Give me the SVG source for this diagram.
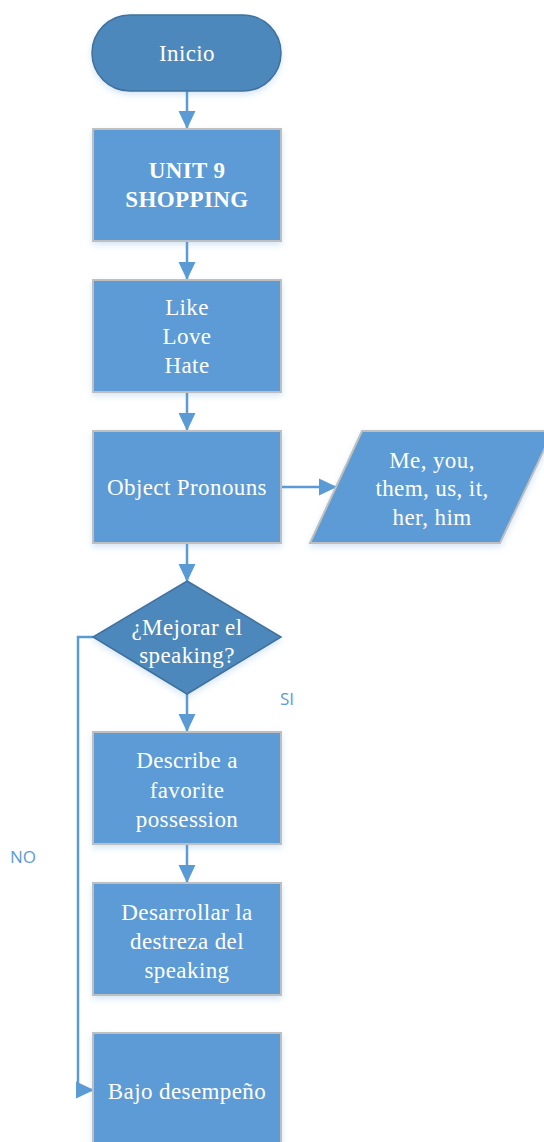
<svg xmlns="http://www.w3.org/2000/svg" width="544" height="1142" viewBox="0 0 544 1142">
<style>
.box{fill:#5B9BD5;stroke:#BFBFBF;stroke-width:2;filter:url(#sh)}
.dark{fill:#4E88BC;stroke:#41719C;stroke-width:1.5;filter:url(#sh)}
.t{font-family:"Liberation Serif","Times New Roman",serif;font-size:23px;letter-spacing:0.4px;fill:#FFFFFF;text-anchor:middle}
.b{font-weight:bold}
.lbl{font-family:"Open Sans","Liberation Sans",sans-serif;font-size:17px;fill:#5B9BD5}
.c{fill:none;stroke:#5B9BD5;stroke-width:2.5}
</style>
<defs>
<filter id="sh" x="-10%" y="-10%" width="125%" height="130%">
<feGaussianBlur in="SourceAlpha" stdDeviation="3"/>
<feOffset dx="0" dy="3" result="o"/>
<feFlood flood-color="#5B9BD5" flood-opacity="0.25"/>
<feComposite in2="o" operator="in"/>
<feMerge><feMergeNode/><feMergeNode in="SourceGraphic"/></feMerge>
</filter>
<marker id="a" markerWidth="18" markerHeight="18" refX="17" refY="9" orient="auto" markerUnits="userSpaceOnUse">
<path d="M0,0.5 L18,9 L0,17.5 z" fill="#5B9BD5"/>
</marker>
</defs>
<g id="connectors">
<line class="c" x1="187" y1="91" x2="187" y2="128" marker-end="url(#a)"/>
<line class="c" x1="187" y1="241" x2="187" y2="279" marker-end="url(#a)"/>
<line class="c" x1="187" y1="392" x2="187" y2="430" marker-end="url(#a)"/>
<line class="c" x1="281" y1="487" x2="336" y2="487" marker-end="url(#a)"/>
<line class="c" x1="187" y1="543" x2="187" y2="581" marker-end="url(#a)"/>
<line class="c" x1="187" y1="694" x2="187" y2="731" marker-end="url(#a)"/>
<line class="c" x1="187" y1="844" x2="187" y2="882" marker-end="url(#a)"/>
<polyline class="c" points="93,637 78,637 78,1090 93,1090" marker-end="url(#a)"/>
<text class="lbl" x="280" y="705">SI</text>
<text class="lbl" x="10" y="863">NO</text>
</g>
<g id="inicio">
<rect class="dark" x="92" y="15" width="189" height="76" rx="38" ry="38"/>
<text class="t" x="187" y="61">Inicio</text>
</g>
<g id="unit9">
<rect class="box" x="93" y="129" width="188" height="112"/>
<text class="t b" x="187" y="178">UNIT 9</text>
<text class="t b" x="187" y="207">SHOPPING</text>
</g>
<g id="likes">
<rect class="box" x="93" y="280" width="188" height="112"/>
<text class="t" x="187" y="315">Like</text>
<text class="t" x="187" y="344">Love</text>
<text class="t" x="187" y="373">Hate</text>
</g>
<g id="objpron">
<rect class="box" x="93" y="431" width="188" height="112"/>
<text class="t" x="187" y="495">Object Pronouns</text>
</g>
<g id="pronouns">
<polygon class="box" points="362,431 553,431 500,543 310,543"/>
<text class="t" x="432" y="468">Me, you,</text>
<text class="t" x="432" y="496">them, us, it,</text>
<text class="t" x="432" y="525">her, him</text>
</g>
<g id="decision">
<polygon class="dark" points="187,581 281,637 187,694 93,637"/>
<text class="t" x="187" y="635">¿Mejorar el</text>
<text class="t" x="187" y="663">speaking?</text>
</g>
<g id="describe">
<rect class="box" x="93" y="732" width="188" height="112"/>
<text class="t" x="187" y="768">Describe a</text>
<text class="t" x="187" y="798">favorite</text>
<text class="t" x="187" y="827">possession</text>
</g>
<g id="desarrollar">
<rect class="box" x="93" y="883" width="188" height="112"/>
<text class="t" x="187" y="920">Desarrollar la</text>
<text class="t" x="187" y="949">destreza del</text>
<text class="t" x="187" y="978">speaking</text>
</g>
<g id="bajo">
<rect class="box" x="93" y="1033" width="188" height="112"/>
<text class="t" x="187" y="1099">Bajo desempeño</text>
</g>
</svg>
